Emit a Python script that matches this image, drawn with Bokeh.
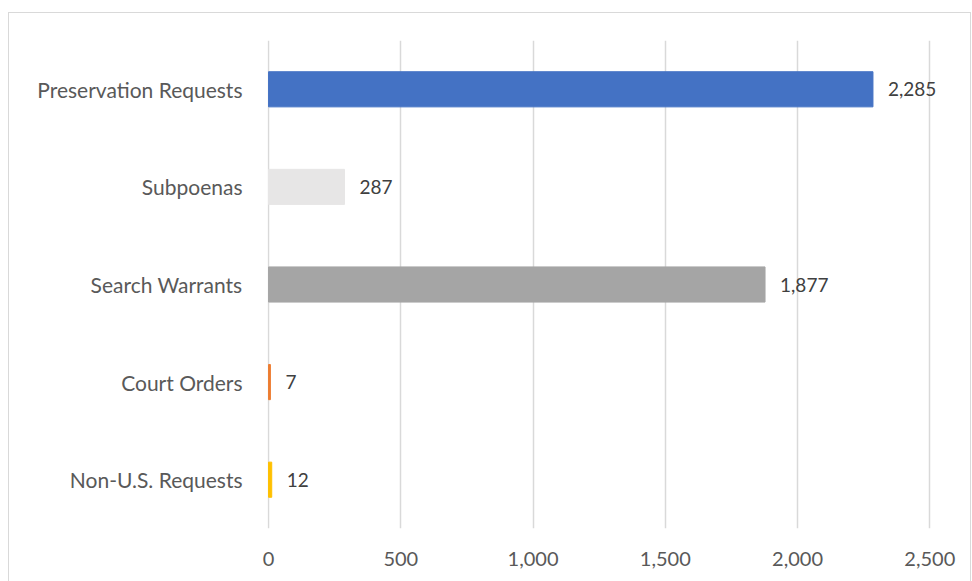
from bokeh.plotting import figure
from bokeh.models import ColumnDataSource, NumeralTickFormatter, FixedTicker
from bokeh.embed import file_html
from bokeh.resources import INLINE
from bokeh.core.properties import value

categories = ["Non-U.S. Requests", "Court Orders", "Search Warrants", "Subpoenas", "Preservation Requests"]
counts = [12, 7, 1877, 287, 2285]
colors = ["#FFC000", "#ED7D31", "#A5A5A5", "#E7E6E6", "#4472C4"]
labels = ["{:,}".format(v) for v in counts]
x_ticks = [0, 500, 1000, 1500, 2000, 2500]

src = ColumnDataSource(dict(cat=categories, val=counts, col=colors, lab=labels))

p = figure(y_range=categories, x_range=(-4, 2650), width=963, height=569,
           output_backend="svg", toolbar_location=None,
           min_border_left=258, min_border_top=27, min_border_right=3, min_border_bottom=54)
p.margin = (12, 0, 0, 8)
p.styles = {"border-top": "1px solid #d9d9d9", "border-left": "1px solid #d9d9d9",
            "border-right": "1px solid #d9d9d9", "box-sizing": "border-box"}
p.outline_line_color = None

p.hbar(y="cat", right="val", left=0, height=0.36, color="col", source=src)
p.text(x="val", y="cat", text="lab", source=src, x_offset=15, text_baseline="middle",
       text_font=value("Lato"), text_font_size="19px", text_color="#404040")

p.xgrid.ticker = FixedTicker(ticks=x_ticks)
p.xgrid.grid_line_color = "#d9d9d9"
p.xgrid.grid_line_width = 1.5
p.ygrid.grid_line_color = None

p.xaxis.ticker = FixedTicker(ticks=x_ticks)
p.xaxis.formatter = NumeralTickFormatter(format="0,0")
for ax in (p.xaxis[0], p.yaxis[0]):
    ax.axis_line_color = None
    ax.major_tick_line_color = None
    ax.minor_tick_line_color = None
    ax.major_label_text_font = "Lato"
    ax.major_label_text_color = "#595959"
p.xaxis.major_label_text_font_size = "20px"
p.yaxis.major_label_text_font_size = "21px"
p.xaxis.major_label_standoff = 17
p.yaxis.major_label_standoff = 19

open("out.html", "w").write(file_html(p, INLINE))
